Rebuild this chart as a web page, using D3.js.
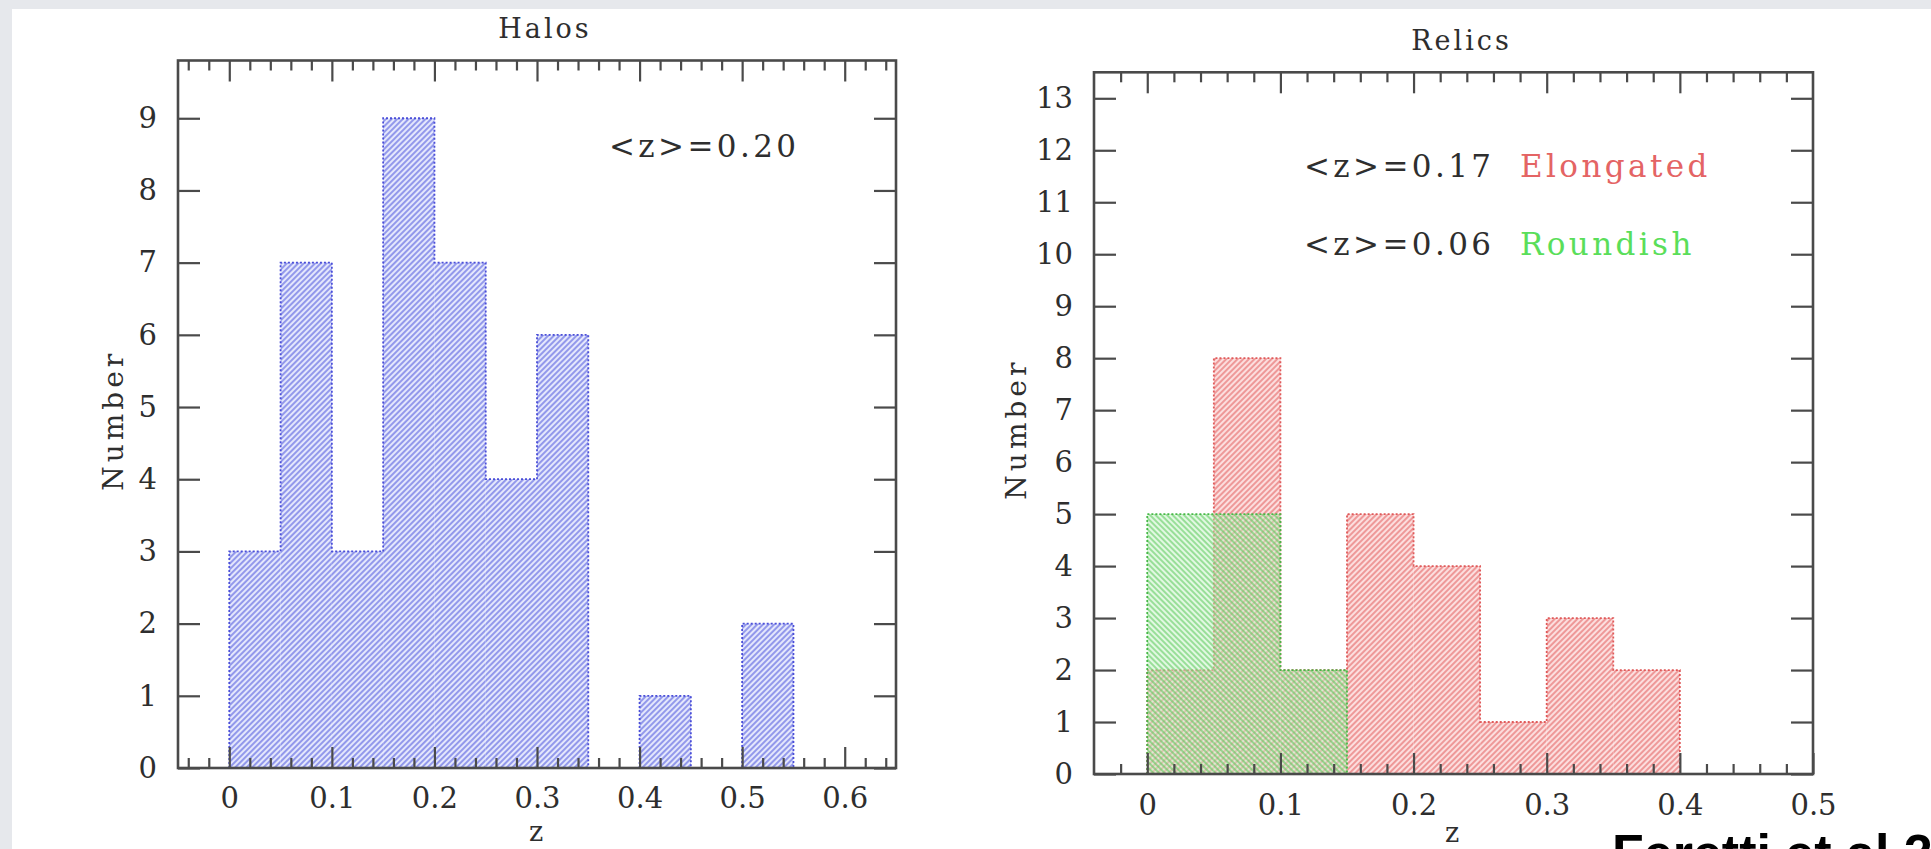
<!DOCTYPE html>
<html>
<head>
<meta charset="utf-8">
<script src="https://cdnjs.cloudflare.com/ajax/libs/d3/7.8.5/d3.min.js"></script>
<style>
  html, body { margin: 0; padding: 0; background: #e6e8ec; overflow: hidden; }
  svg { display: block; }
  .lbl { font-family: "DejaVu Serif", "Liberation Serif", serif; fill: #2e2e2e; }
</style>
</head>
<body>
<script>
// ---------------- data ----------------
const binWidth = 0.05;
const halosBins   = [0, 0.05, 0.10, 0.15, 0.20, 0.25, 0.30, 0.35, 0.40, 0.45, 0.50];
const halosCounts = [3, 7, 3, 9, 7, 4, 6, 0, 1, 0, 2];

const elongatedBins   = [0, 0.05, 0.10, 0.15, 0.20, 0.25, 0.30, 0.35];
const elongatedCounts = [2, 8, 2, 5, 4, 1, 3, 2];

const roundishBins   = [0, 0.05, 0.10];
const roundishCounts = [5, 5, 2];

const halosXTicks  = [0, 0.1, 0.2, 0.3, 0.4, 0.5, 0.6];
const halosYTicks  = [0, 1, 2, 3, 4, 5, 6, 7, 8, 9];
const relicsXTicks = [0, 0.1, 0.2, 0.3, 0.4, 0.5];
const relicsYTicks = [0, 1, 2, 3, 4, 5, 6, 7, 8, 9, 10, 11, 12, 13];

const titles = ["Halos", "Relics"];
const yLabel = "Number";
const xLabel = "z";
const halosNote = "<z>=0.20";
const relicsNotes = ["<z>=0.17", "<z>=0.06"];
const relicsNames = ["Elongated", "Roundish"];
const credit = "Feretti et al 2012";

// ---------------- drawing ----------------
const W = 1931, H = 849;
const svg = d3.select("body").append("svg").attr("width", W).attr("height", H);

svg.append("rect").attr("x", 12).attr("y", 9).attr("width", W - 12).attr("height", H - 9).attr("fill", "#ffffff");

const defs = svg.append("defs");
function hatch(id, bg, bgOp, line, lineW, lineOp, angle) {
  const p = defs.append("pattern").attr("id", id).attr("patternUnits", "userSpaceOnUse")
    .attr("width", 4).attr("height", 4).attr("patternTransform", `rotate(${angle})`);
  p.append("rect").attr("width", 4).attr("height", 4).attr("fill", bg).attr("fill-opacity", bgOp);
  p.append("line").attr("x1", 1).attr("y1", 0).attr("x2", 1).attr("y2", 4)
    .attr("stroke", line).attr("stroke-width", lineW).attr("stroke-opacity", lineOp);
}
hatch("hBlue", "#e4e7fc", 1, "#7077e4", 1.4, 1, 45);
hatch("hRed", "#fcdede", 1, "#e77373", 1.3, 1, 45);
hatch("hGreen", "#c6f2c6", 0.5, "#4fc64f", 1.2, 0.85, -45);

const fmt = d => d === 0 ? "0" : d3.format(".1f")(d);

function range(a, b, s) { const r = []; for (let v = a; v <= b + 1e-9; v += s) r.push(+v.toFixed(4)); return r; }

function drawPanel(cfg) {
  const g = svg.append("g");
  const x = d3.scaleLinear().domain(cfg.xDomain).range(cfg.xRange);
  const y = d3.scaleLinear().domain(cfg.yDomain).range(cfg.yRange);

  cfg.series.forEach(s => {
    const data = s.bins.map((b, i) => ({ z: b, n: s.counts[i] })).filter(d => d.n > 0);
    g.append("g").selectAll("rect").data(data).join("rect")
      .attr("x", d => x(d.z)).attr("width", d => x(d.z + binWidth) - x(d.z))
      .attr("y", d => y(d.n)).attr("height", d => y(0) - y(d.n))
      .attr("fill", `url(#${s.pattern})`);
    // step outline of the histogram
    const pts = [{ z: s.bins[0], n: 0 }]
      .concat(s.bins.map((b, i) => ({ z: b, n: s.counts[i] })))
      .concat([{ z: s.bins[s.bins.length - 1] + binWidth, n: 0 }]);
    const line = d3.line().x(d => x(d.z)).y(d => y(d.n)).curve(d3.curveStepAfter);
    g.append("path").attr("d", line(pts)).attr("fill", "none")
      .attr("stroke", s.stroke).attr("stroke-width", 1.8).attr("stroke-dasharray", "2,2");
  });

  const [x0, x1] = cfg.xRange, [y0, y1] = cfg.yRange;
  const minorTicks = range(-0.1, 0.7, 0.02).filter(v => v > cfg.xDomain[0] + 1e-6 && v < cfg.xDomain[1] - 1e-6
    && Math.abs(v * 10 - Math.round(v * 10)) > 0.05);

  const style = sel => {
    sel.select(".domain").remove();
    sel.selectAll(".tick line").attr("stroke", "#4a4a4a").attr("stroke-width", 2.2);
    sel.selectAll(".tick text").attr("class", "lbl").attr("font-size", 29);
  };

  // bottom
  g.append("g").attr("transform", `translate(0,${y0})`)
    .call(d3.axisBottom(x).tickValues(cfg.xTicks).tickSize(-21).tickSizeOuter(0).tickPadding(cfg.xPad).tickFormat(fmt))
    .call(style);
  g.append("g").attr("transform", `translate(0,${y0})`)
    .call(d3.axisBottom(x).tickValues(minorTicks).tickSize(-10).tickSizeOuter(0).tickFormat(""))
    .call(style);
  // top
  g.append("g").attr("transform", `translate(0,${y1})`)
    .call(d3.axisTop(x).tickValues(cfg.xTicks.filter(v => v < cfg.xDomain[1] - 1e-6)).tickSize(-21).tickSizeOuter(0).tickFormat(""))
    .call(style);
  g.append("g").attr("transform", `translate(0,${y1})`)
    .call(d3.axisTop(x).tickValues(minorTicks).tickSize(-10).tickSizeOuter(0).tickFormat(""))
    .call(style);
  // left / right
  g.append("g").attr("transform", `translate(${x0},0)`)
    .call(d3.axisLeft(y).tickValues(cfg.yTicks).tickSize(-22).tickSizeOuter(0).tickPadding(21).tickFormat(d3.format("d")))
    .call(style);
  g.append("g").attr("transform", `translate(${x1},0)`)
    .call(d3.axisRight(y).tickValues(cfg.yTicks).tickSize(-22).tickSizeOuter(0).tickFormat(""))
    .call(style);
  g.selectAll(".tick text").attr("fill", "#2e2e2e");

  // frame
  g.append("rect").attr("x", x0).attr("y", y1).attr("width", x1 - x0).attr("height", y0 - y1)
    .attr("fill", "none").attr("stroke", "#4a4a4a").attr("stroke-width", 2.6);

  // title and labels
  g.append("text").attr("class", "lbl").attr("x", (x0 + x1) / 2 + 8).attr("y", cfg.titleY)
    .attr("text-anchor", "middle").attr("font-size", 27).attr("letter-spacing", 3).text(cfg.title);
  g.append("text").attr("class", "lbl")
    .attr("transform", `translate(${cfg.yLabelX},${(y0 + y1) / 2 + 6}) rotate(-90)`)
    .attr("text-anchor", "middle").attr("font-size", 28).attr("letter-spacing", 4).text(yLabel);
  g.append("text").attr("class", "lbl").attr("x", cfg.xLabelX).attr("y", cfg.xLabelY)
    .attr("text-anchor", "middle").attr("font-size", 27).text(xLabel);
  return { g, x, y };
}

const left = drawPanel({
  xDomain: [-0.05, 0.65], xRange: [178, 896],
  yDomain: [0, 9.8], yRange: [768, 60.5],
  xTicks: halosXTicks, yTicks: halosYTicks, xPad: 19,
  series: [{ bins: halosBins, counts: halosCounts, pattern: "hBlue", stroke: "#4a4ed8" }],
  title: titles[0], titleY: 38, yLabelX: 123, xLabelX: 536, xLabelY: 841
});
left.g.append("text").attr("class", "lbl").attr("x", 609).attr("y", 157)
  .attr("font-size", 31).attr("letter-spacing", 3.4).text(halosNote);

const right = drawPanel({
  xDomain: [-0.04, 0.5], xRange: [1094, 1813],
  yDomain: [0, 13.5], yRange: [774, 72.3],
  xTicks: relicsXTicks, yTicks: relicsYTicks, xPad: 20,
  series: [
    { bins: elongatedBins, counts: elongatedCounts, pattern: "hRed", stroke: "#e05a5a" },
    { bins: roundishBins, counts: roundishCounts, pattern: "hGreen", stroke: "#48b848" }
  ],
  title: titles[1], titleY: 50, yLabelX: 1026, xLabelX: 1452, xLabelY: 842
});
const noteY = [177, 255];
const noteColors = ["#e46464", "#5ade5a"];
relicsNotes.forEach((t, i) => {
  right.g.append("text").attr("class", "lbl").attr("x", 1304).attr("y", noteY[i])
    .attr("font-size", 31).attr("letter-spacing", 3.4).text(t);
  right.g.append("text").attr("class", "lbl").attr("x", 1520).attr("y", noteY[i])
    .attr("font-size", 31).attr("letter-spacing", 3.4).style("fill", noteColors[i]).text(relicsNames[i]);
});

svg.append("text").attr("x", 1612).attr("y", 871)
  .attr("font-family", "'Liberation Sans', Arial, sans-serif").attr("font-weight", "bold")
  .attr("font-size", 52).attr("fill", "#000").text(credit);
</script>
</body>
</html>
